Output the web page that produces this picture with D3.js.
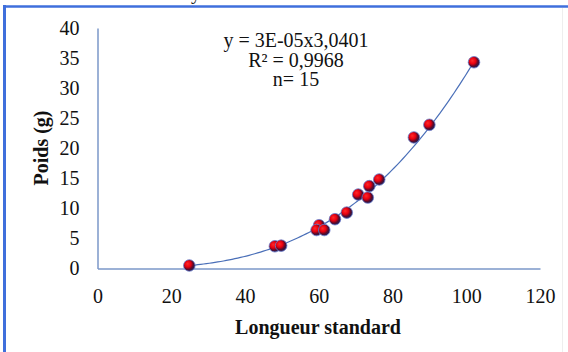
<!DOCTYPE html>
<html>
<head>
<meta charset="utf-8">
<script src="https://cdn.jsdelivr.net/npm/d3@7"></script>
<style>
  html, body { margin: 0; padding: 0; background: #fff; }
  svg { display: block; }
</style>
</head>
<body>
<svg id="chart" width="568" height="352"></svg>
<script>
// ---- data ----
const longueur = [24.9, 48.1, 49.8, 60.1, 59.4, 61.5, 64.4, 67.6, 70.7, 73.3, 73.7, 76.4, 85.8, 90.0, 102.1];
const poids    = [0.5, 3.7, 3.8, 7.2, 6.4, 6.4, 8.2, 9.3, 12.3, 11.8, 13.7, 14.8, 21.8, 23.9, 34.3];
const xTicks = [0, 20, 40, 60, 80, 100, 120];
const yTicks = [0, 5, 10, 15, 20, 25, 30, 35, 40];
const annotationLines = ["y = 3E-05x3,0401", "R² = 0,9968", "n= 15"];
const xTitle = "Longueur standard";
const yTitle = "Poids (g)";

const svg = d3.select("#chart");
const W = 568, H = 352;
const serif = "'Liberation Serif', 'Times New Roman', serif";

svg.append("rect").attr("width", W).attr("height", H).attr("fill", "#fff");

// fragment of text above the frame
svg.append("text").attr("x", 191).attr("y", -1)
  .attr("font-family", serif).attr("font-size", 20).attr("fill", "#222").text("y");

// blue frame (top and left)
svg.append("line").attr("x1", 3).attr("x2", W).attr("y1", 6.5).attr("y2", 6.5)
  .attr("stroke", "#3f6fdc").attr("stroke-width", 2.5);
svg.append("line").attr("x1", 4.5).attr("x2", 4.5).attr("y1", 5).attr("y2", H)
  .attr("stroke", "#3f6fdc").attr("stroke-width", 3);
svg.append("line").attr("x1", 562.5).attr("x2", 562.5).attr("y1", 8).attr("y2", H)
  .attr("stroke", "#eeeeee").attr("stroke-width", 1);

const x = d3.scaleLinear().domain([0, 120]).range([97.5, 540]);
const y = d3.scaleLinear().domain([0, 40]).range([268.5, 28]);

// axes
const axisColor = "#7b97c9";
const gx = svg.append("g").attr("transform", `translate(0,${y(0)})`)
  .call(d3.axisBottom(x).tickValues(xTicks).tickSize(0).tickPadding(20).tickFormat(d3.format("d")));
const gy = svg.append("g").attr("transform", `translate(${x(0)},0)`)
  .call(d3.axisLeft(y).tickValues(yTicks).tickSize(0).tickPadding(18).tickFormat(d3.format("d")));
[gx, gy].forEach(g => {
  g.select(".domain").attr("stroke", axisColor).attr("stroke-width", 1.5);
  g.selectAll("text").attr("font-family", serif).attr("font-size", 20).attr("fill", "#111");
});

// axis titles
svg.append("text").attr("x", 318).attr("y", 334)
  .attr("text-anchor", "middle").attr("font-family", serif).attr("font-size", 20)
  .attr("font-weight", "bold").attr("fill", "#111").text(xTitle);
svg.append("text").attr("transform", "translate(48,148) rotate(-90)")
  .attr("text-anchor", "middle").attr("font-family", serif).attr("font-size", 20)
  .attr("font-weight", "bold").attr("fill", "#111").text(yTitle);

// power-law trendline fitted in log space from the data
const lx = longueur.map(Math.log), ly = poids.map(Math.log);
const mx = d3.mean(lx), my = d3.mean(ly);
const b = d3.sum(lx.map((v, i) => (v - mx) * (ly[i] - my))) / d3.sum(lx.map(v => (v - mx) ** 2));
const a = Math.exp(my - b * mx);
const xmin = d3.min(longueur), xmax = d3.max(longueur);
const curve = d3.range(0, 101).map(i => {
  const xv = xmin + (xmax - xmin) * i / 100;
  return [xv, a * Math.pow(xv, b)];
});
svg.append("path").datum(curve)
  .attr("d", d3.line().x(d => x(d[0])).y(d => y(d[1])))
  .attr("fill", "none").attr("stroke", "#4a6fb8").attr("stroke-width", 1.2);

// marker gradient
const defs = svg.append("defs");
const grad = defs.append("radialGradient").attr("id", "mk")
  .attr("cx", "40%").attr("cy", "40%").attr("r", "60%").attr("fx", "35%").attr("fy", "35%");
grad.append("stop").attr("offset", "0%").attr("stop-color", "#ff2a2a");
grad.append("stop").attr("offset", "45%").attr("stop-color", "#e8000f");
grad.append("stop").attr("offset", "75%").attr("stop-color", "#5a0a2a");
grad.append("stop").attr("offset", "100%").attr("stop-color", "#22205a");

svg.append("g").selectAll("circle")
  .data(longueur.map((v, i) => [v, poids[i]]))
  .join("circle")
  .attr("cx", d => x(d[0])).attr("cy", d => y(d[1])).attr("r", 5.8)
  .attr("fill", "url(#mk)").attr("stroke", "#6f7fcc").attr("stroke-width", 0.8);

// annotation
const ann = svg.append("text").attr("font-family", serif).attr("font-size", 20).attr("fill", "#111")
  .attr("text-anchor", "middle");
annotationLines.forEach((t, i) => {
  ann.append("tspan").attr("x", 296).attr("y", 47 + i * 19.5).text(t);
});
</script>
</body>
</html>
